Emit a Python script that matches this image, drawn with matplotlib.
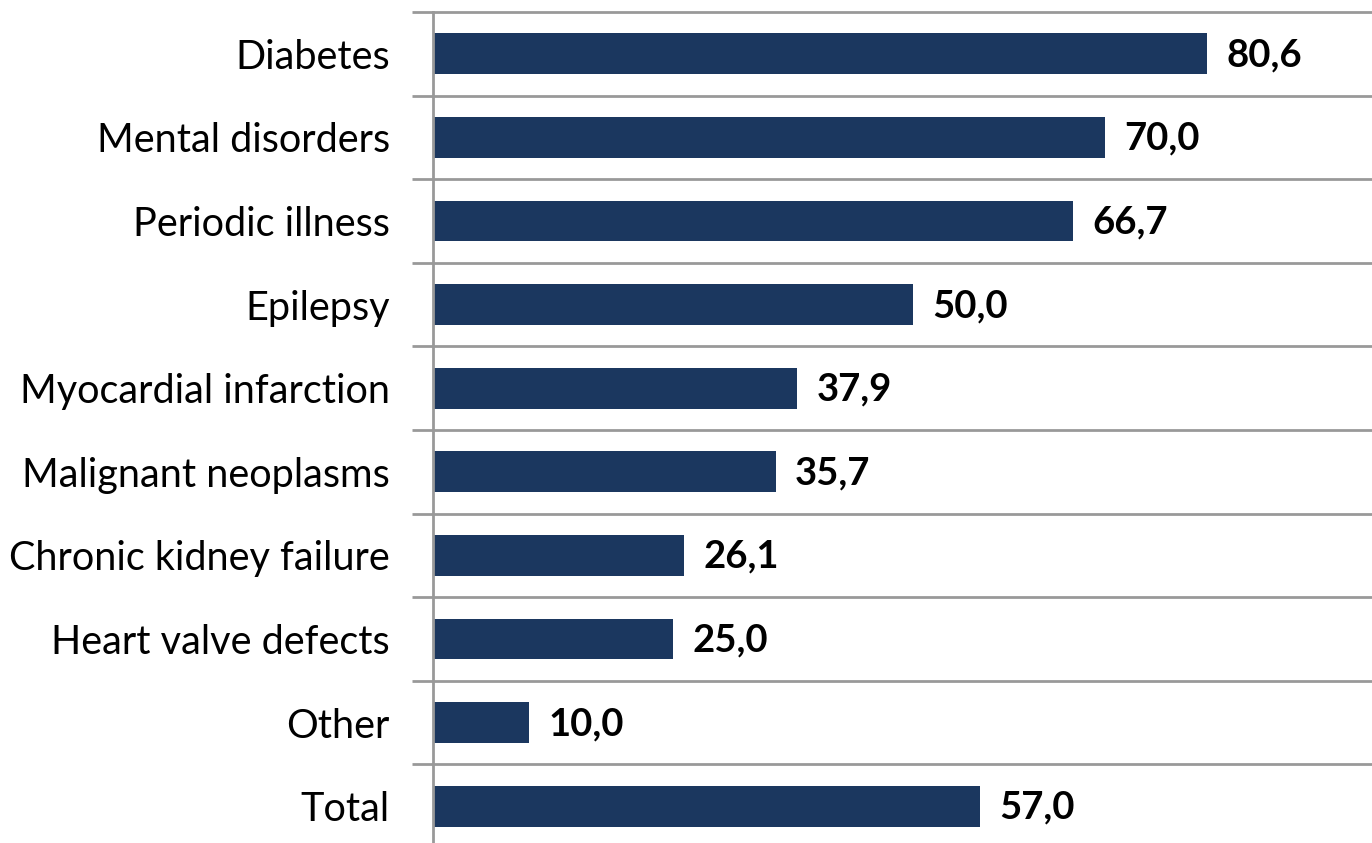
import matplotlib
matplotlib.use("Agg")
import matplotlib.pyplot as plt
import numpy as np

categories = ["Diabetes", "Mental disorders", "Periodic illness", "Epilepsy",
              "Myocardial infarction", "Malignant neoplasms", "Chronic kidney failure",
              "Heart valve defects", "Other", "Total"]
values = [80.6, 70.0, 66.7, 50.0, 37.9, 35.7, 26.1, 25.0, 10.0, 57.0]
value_labels = ["80,6", "70,0", "66,7", "50,0", "37,9", "35,7", "26,1", "25,0", "10,0", "57,0"]

plt.rcParams['font.family'] = ['Lato', 'DejaVu Sans']

W, H = 1372, 843
row_px = 83.6
fig = plt.figure(figsize=(W / 100, H / 100), dpi=100)
ax = fig.add_axes([433 / W, 0, 1 - 433 / W, (H - 12) / H])

bar_color = "#1b375f"
grid_color = "#999999"
y = np.arange(len(categories))
ax.barh(y, values, height=0.49, color=bar_color)

ax.set_xlim(0, (W - 433) / 9.6)
ax.set_ylim(-0.5 + (H - 12) / row_px, -0.5)

# boundaries between categories
bounds = np.arange(-0.5, len(categories) - 0.5, 1.0)
for b in bounds:
    ax.axhline(b, color=grid_color, lw=2, zorder=0, clip_on=False)
ax.set_yticks(bounds, minor=True)
ax.tick_params(axis='y', which='minor', length=15, width=2, color=grid_color, direction='out')

ax.set_yticks(y)
ax.set_yticklabels(categories, fontsize=28.5)
ax.tick_params(axis='y', which='major', length=0, pad=31)
ax.set_xticks([])

for s in ["top", "right", "bottom"]:
    ax.spines[s].set_visible(False)
ax.spines["left"].set_color(grid_color)
ax.spines["left"].set_linewidth(2)

for yi, v, lab in zip(y, values, value_labels):
    ax.annotate(lab, (v, yi), xytext=(14, -1), textcoords="offset points",
                ha="left", va="center", fontsize=27.5, fontweight="bold", color="black")

fig.savefig("out.png", dpi=100)
